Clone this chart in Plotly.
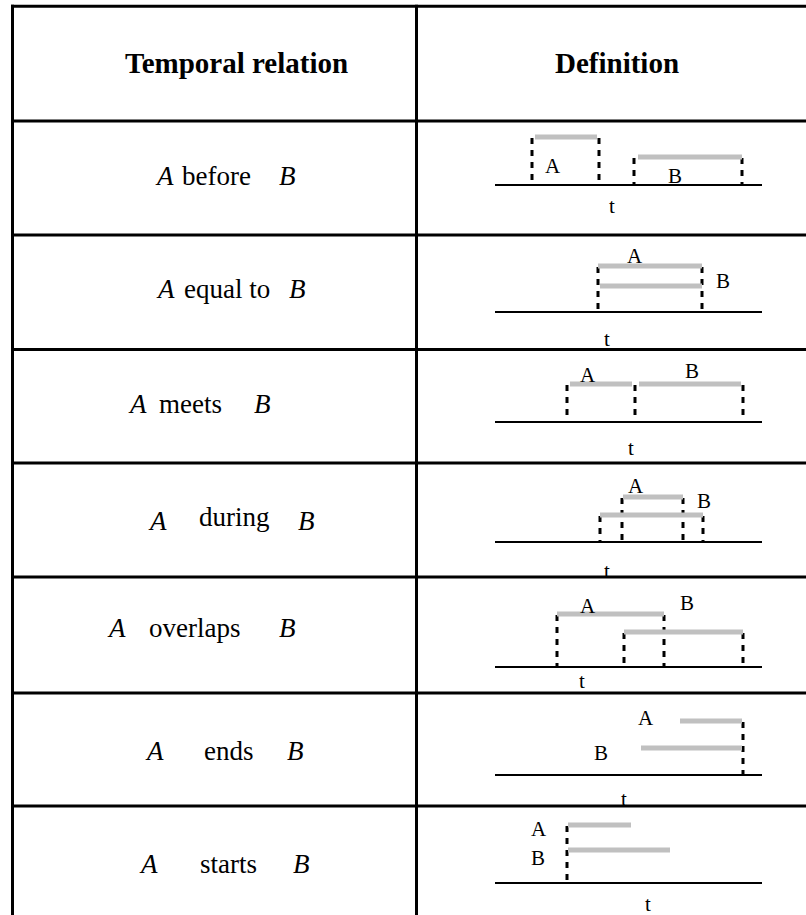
import plotly.graph_objects as go

# ---- data ----
headers = ["Temporal relation", "Definition"]
relations = ["before", "equal to", "meets", "during", "overlaps", "ends", "starts"]

# interval endpoints on the t axis
a_start = [535, 598, 570, 623, 557, 680, 568]
a_end = [597, 702, 632, 683, 664, 742, 631]
b_start = [638, 600, 639, 600, 624, 641, 568]
b_end = [742, 702, 741, 703, 743, 742, 670]
# where the dotted guides drop down to the axis
guides = [[532, 599, 634, 742], [598, 702], [567, 635, 743],
          [600, 622, 683, 703], [557, 624, 664, 743], [743], [567]]

# ---- layout (pixel space of the page) ----
W, H = 806, 915
row_lines = [6.3, 121, 235, 349.5, 463, 577, 693, 806]
col_lines = [12.5, 416.5]
a_y = [137, 266, 384, 497, 614, 721, 825]
b_y = [157, 286, 384, 515, 632, 748, 850]
axis_y = [185, 312, 422, 542, 667, 775, 883]
axis_x = (495, 762)
lab_a = [(553, 165), (635, 255), (588, 374), (636, 485), (588, 605), (646, 717), (539, 828)]
lab_b = [(675, 175), (723, 280), (692, 370), (704, 500), (687, 602), (601, 752), (538, 857)]
lab_t = [(612, 205), (607, 338), (631, 447), (607, 570), (582, 680), (624, 798), (648, 903)]
# left column: x of "A", word, "B" and text baseline
left_x = [(153, 180, 277), (154, 182, 287), (126, 157, 252), (146, 197, 296),
          (105, 147, 277), (143, 202, 285), (137, 198, 291)]
left_base = [185, 298, 413, 530, 637, 760, 873]

SERIF = "Liberation Serif, Times New Roman, serif"
GREY = "#c0c0c0"

fig = go.Figure()

# table grid
for y in row_lines:
    fig.add_shape(type="line", x0=11, x1=W, y0=y, y1=y, line=dict(color="black", width=3))
for x in col_lines:
    fig.add_shape(type="line", x0=x, x1=x, y0=row_lines[0] - 1.5, y1=H, line=dict(color="black", width=3))

for i in range(len(relations)):
    # time axis
    fig.add_trace(go.Scatter(x=list(axis_x), y=[axis_y[i]] * 2, mode="lines",
                             line=dict(color="black", width=2), hoverinfo="skip"))
    # dotted guides from the bar end to the axis
    for gx in guides[i]:
        tops = []
        if abs(gx - a_start[i]) <= 5 or abs(gx - a_end[i]) <= 5:
            tops.append(a_y[i])
        if abs(gx - b_start[i]) <= 5 or abs(gx - b_end[i]) <= 5:
            tops.append(b_y[i])
        fig.add_trace(go.Scatter(x=[gx, gx], y=[min(tops) + 1, axis_y[i]], mode="lines",
                                 line=dict(color="black", width=3, dash="6px,6px"), hoverinfo="skip"))
    # interval bars
    fig.add_trace(go.Scatter(x=[a_start[i], a_end[i]], y=[a_y[i]] * 2, mode="lines",
                             line=dict(color=GREY, width=5), hoverinfo="skip"))
    fig.add_trace(go.Scatter(x=[b_start[i], b_end[i]], y=[b_y[i]] * 2, mode="lines",
                             line=dict(color=GREY, width=5), hoverinfo="skip"))

    for txt, (lx, ly) in (("A", lab_a[i]), ("B", lab_b[i]), ("t", lab_t[i])):
        fig.add_annotation(x=lx, y=ly + 1, text=txt, showarrow=False, xanchor="center", yanchor="middle",
                           font=dict(family=SERIF, size=21, color="black"))

    # left column text
    xa, xw, xb = left_x[i]
    fs = 27
    mid = left_base[i] - 0.32 * fs
    fig.add_annotation(x=xa, y=mid, text="<i>A</i>", showarrow=False, xanchor="left", yanchor="middle",
                       font=dict(family=SERIF, size=fs, color="black"))
    fig.add_annotation(x=xw, y=mid - (4 if relations[i] == "during" else 0), text=relations[i],
                       showarrow=False, xanchor="left", yanchor="middle",
                       font=dict(family=SERIF, size=fs, color="black"))
    fig.add_annotation(x=xb, y=mid, text="<i>B</i>", showarrow=False, xanchor="left", yanchor="middle",
                       font=dict(family=SERIF, size=fs, color="black"))

# header
for txt, cx in zip(headers, [236, 617]):
    fig.add_annotation(x=cx, y=63, text="<b>" + txt + "</b>", showarrow=False,
                       xanchor="center", yanchor="middle",
                       font=dict(family=SERIF, size=29, color="black"))

fig.update_layout(
    width=W, height=H, margin=dict(l=0, r=0, t=0, b=0),
    paper_bgcolor="white", plot_bgcolor="white", showlegend=False,
    xaxis=dict(range=[0, W], visible=False, fixedrange=True),
    yaxis=dict(range=[H, 0], visible=False, fixedrange=True),
)

# page body margin would push the figure 8px right/down
fig.write_html("out.html", config={"displayModeBar": False},
               post_script="document.body.style.margin='0';")
